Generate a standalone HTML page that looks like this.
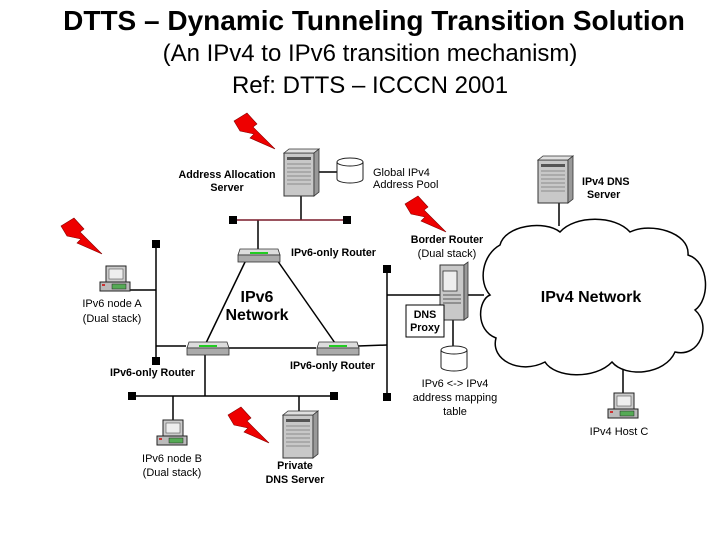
<!DOCTYPE html>
<html><head><meta charset="utf-8"><style>
body{margin:0;background:#fff;}
svg{display:block;font-family:"Liberation Sans",sans-serif;}
.b{font-weight:bold;font-size:10.7px;}
.r{font-size:11px;}
</style></head><body>
<svg width="720" height="540" viewBox="0 0 720 540" xmlns="http://www.w3.org/2000/svg">
<defs>
<g id="srv">
 <rect x="0" y="0" width="30" height="43" fill="#c8c8c8" stroke="#333" stroke-width="1"/>
 <polygon points="0,0 5,-4 35,-4 30,0" fill="#e0e0e0" stroke="#333" stroke-width="0.8"/>
 <polygon points="30,0 35,-4 35,39 30,43" fill="#999" stroke="#333" stroke-width="0.8"/>
 <rect x="3" y="4" width="24" height="3" fill="#555"/>
 <g stroke="#777" stroke-width="0.8"><line x1="3" y1="11" x2="27" y2="11"/><line x1="3" y1="15" x2="27" y2="15"/><line x1="3" y1="19" x2="27" y2="19"/><line x1="3" y1="23" x2="27" y2="23"/><line x1="3" y1="27" x2="27" y2="27"/><line x1="3" y1="31" x2="27" y2="31"/></g>
</g>
<g id="pc">
 <rect x="6" y="0" width="20" height="16" fill="#ccc" stroke="#222"/>
 <rect x="9" y="3" width="14" height="10" fill="#eee" stroke="#555" stroke-width="0.6"/>
 <rect x="0" y="16" width="30" height="9" fill="#bbb" stroke="#222"/>
 <rect x="2" y="18" width="3" height="2" fill="#c33"/>
 <rect x="12" y="18" width="14" height="5" fill="#5a5" stroke="#222" stroke-width="0.5"/>
</g>
<g id="rtr">
 <polygon points="4,0 42,0 44,6 2,6" fill="#ddd" stroke="#333" stroke-width="0.8"/>
 <rect x="2" y="6" width="42" height="7" fill="#aaa" stroke="#333" stroke-width="0.8"/>
 <line x1="14" y1="4" x2="32" y2="4" stroke="#2c2" stroke-width="2"/>
</g>
<polygon id="bolt" points="0,8 13,0 23,11 19,14 41,36 16,25 20,21 6,18" fill="#e00" stroke="#800" stroke-width="0.6"/>
<g id="cyl">
 <path d="M0,4 v17 a13,4 0 0 0 26,0 v-17" fill="#fff" stroke="#222"/>
 <ellipse cx="13" cy="4" rx="13" ry="4" fill="#fff" stroke="#222"/>
</g>
</defs>

<text x="374" y="30" text-anchor="middle" font-size="28" font-weight="bold">DTTS – Dynamic Tunneling Transition Solution</text>
<text x="370" y="61" text-anchor="middle" font-size="24">(An IPv4 to IPv6 transition mechanism)</text>
<text x="370" y="93" text-anchor="middle" font-size="24">Ref: DTTS – ICCCN 2001</text>

<use href="#bolt" transform="translate(234,113)"/>
<use href="#bolt" transform="translate(61,218)"/>
<use href="#bolt" transform="translate(405,196)"/>
<use href="#bolt" transform="translate(228,407)"/>

<g stroke="#000" stroke-width="1.5" fill="none">
 <line x1="301" y1="195" x2="301" y2="220"/>
 <line x1="316" y1="172" x2="337" y2="172"/>
 <line x1="258" y1="220" x2="258" y2="249"/>
 <line x1="246" y1="260" x2="206" y2="343"/>
 <line x1="277" y1="260" x2="335" y2="343"/>
 <line x1="228" y1="348" x2="316" y2="348"/>
 <line x1="156" y1="244" x2="156" y2="361"/>
 <line x1="130" y1="290" x2="156" y2="290"/>
 <line x1="156" y1="346" x2="186" y2="346"/>
 <line x1="205" y1="355" x2="205" y2="396"/>
 <line x1="132" y1="396" x2="334" y2="396"/>
 <line x1="173" y1="396" x2="173" y2="421"/>
 <line x1="299" y1="396" x2="299" y2="416"/>
 <line x1="358" y1="346" x2="387" y2="345"/>
 <line x1="387" y1="267" x2="387" y2="397"/>
 <line x1="387" y1="295" x2="440" y2="295"/>
 <line x1="467" y1="295" x2="484" y2="295"/>
 <line x1="453" y1="320" x2="453" y2="346"/>
 <line x1="559" y1="200" x2="559" y2="226"/>
 <line x1="623" y1="370" x2="623" y2="394"/>
</g>
<line x1="233" y1="220" x2="347" y2="220" stroke="#7a1a2a" stroke-width="1.5"/>
<g fill="#000">
 <rect x="229" y="216" width="8" height="8"/><rect x="343" y="216" width="8" height="8"/>
 <rect x="152" y="240" width="8" height="8"/><rect x="152" y="357" width="8" height="8"/>
 <rect x="128" y="392" width="8" height="8"/><rect x="330" y="392" width="8" height="8"/>
 <rect x="383" y="265" width="8" height="8"/><rect x="383" y="393" width="8" height="8"/>
</g>

<path d="M500,245 C505,225 545,220 560,232 C575,215 615,215 630,232 C650,222 690,232 688,255 C710,262 710,300 695,310 C712,325 700,358 675,352 C665,375 625,378 612,362 C595,380 555,378 545,362 C520,375 490,360 496,338 C475,330 478,300 490,295 C478,282 482,255 500,245 Z" fill="#fff" stroke="#000" stroke-width="1.5"/>
<text x="591" y="302" text-anchor="middle" font-size="16" font-weight="bold">IPv4 Network</text>

<use href="#srv" transform="translate(284,153)"/>
<use href="#cyl" transform="translate(337,158)"/>
<use href="#rtr" transform="translate(236,249)"/>
<use href="#rtr" transform="translate(185,342)"/>
<use href="#rtr" transform="translate(315,342)"/>
<use href="#pc" transform="translate(100,266)"/>
<use href="#pc" transform="translate(157,420)"/>
<use href="#srv" transform="translate(283,415)"/>
<use href="#srv" transform="translate(538,160)"/>
<use href="#pc" transform="translate(608,393)"/>
<g transform="translate(440,265)">
 <rect x="0" y="0" width="24" height="55" fill="#c8c8c8" stroke="#333"/>
 <polygon points="24,0 28,-3 28,52 24,55" fill="#999" stroke="#333" stroke-width="0.8"/>
 <rect x="3" y="6" width="14" height="20" fill="#eee" stroke="#333" stroke-width="0.8"/>
 <g stroke="#333" stroke-width="0.8"><line x1="3" y1="30" x2="21" y2="30"/><line x1="3" y1="34" x2="21" y2="34"/><line x1="3" y1="38" x2="21" y2="38"/></g>
</g>
<rect x="406" y="305" width="38" height="32" fill="#fff" stroke="#000"/>
<text x="425" y="318" text-anchor="middle" class="b">DNS</text>
<text x="425" y="331" text-anchor="middle" class="b">Proxy</text>
<use href="#cyl" transform="translate(441,346)"/>

<text x="227" y="178" text-anchor="middle" class="b">Address Allocation</text>
<text x="227" y="191" text-anchor="middle" class="b">Server</text>
<text x="373" y="176" class="r">Global IPv4</text>
<text x="373" y="188" class="r">Address Pool</text>
<text x="291" y="256" class="b">IPv6-only Router</text>
<text x="257" y="302" text-anchor="middle" font-size="16" font-weight="bold">IPv6</text>
<text x="257" y="320" text-anchor="middle" font-size="16" font-weight="bold">Network</text>
<text x="112" y="307" text-anchor="middle" class="r">IPv6 node A</text>
<text x="112" y="322" text-anchor="middle" class="r">(Dual stack)</text>
<text x="110" y="376" class="b">IPv6-only Router</text>
<text x="290" y="369" class="b">IPv6-only Router</text>
<text x="172" y="462" text-anchor="middle" class="r">IPv6 node B</text>
<text x="172" y="476" text-anchor="middle" class="r">(Dual stack)</text>
<text x="295" y="469" text-anchor="middle" class="b">Private</text>
<text x="295" y="483" text-anchor="middle" class="b">DNS Server</text>
<text x="447" y="243" text-anchor="middle" class="b">Border Router</text>
<text x="447" y="257" text-anchor="middle" class="r">(Dual stack)</text>
<text x="455" y="387" text-anchor="middle" class="r">IPv6 &lt;-&gt; IPv4</text>
<text x="455" y="401" text-anchor="middle" class="r">address mapping</text>
<text x="455" y="415" text-anchor="middle" class="r">table</text>
<text x="582" y="185" class="b">IPv4 DNS</text>
<text x="587" y="198" class="b">Server</text>
<text x="619" y="435" text-anchor="middle" class="r">IPv4 Host  C</text>
</svg>
</body></html>
